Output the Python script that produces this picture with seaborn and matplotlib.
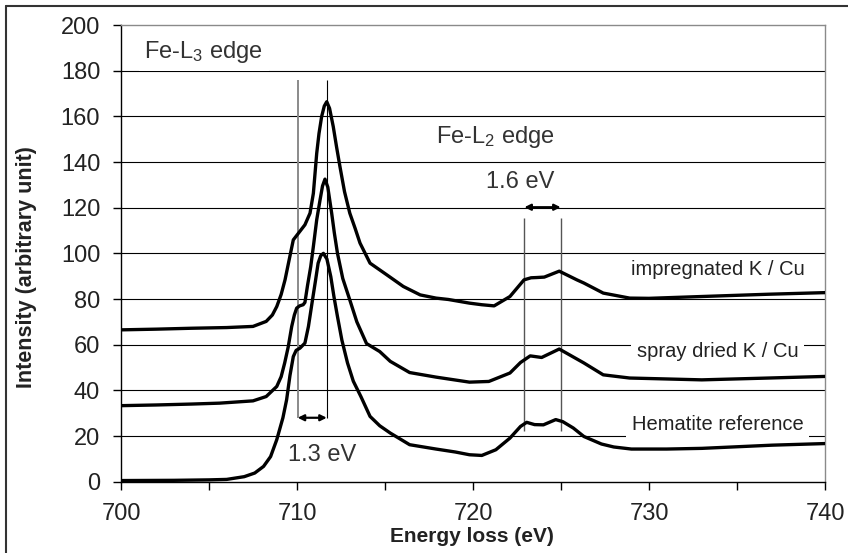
import numpy as np
import pandas as pd
import matplotlib
matplotlib.use("Agg")
import matplotlib.pyplot as plt
import seaborn as sns
from matplotlib.lines import Line2D

# ---------------- data: Fe L2,3 EELS spectra ----------------
hem_e = [700.0, 703.0, 705.0, 706.0, 707.0, 707.6, 708.1, 708.5, 708.85, 709.2,
         709.41, 709.6, 709.79, 709.95, 710.17, 710.45, 710.65, 710.88, 711.05, 711.2,
         711.35, 711.5, 711.7, 711.92, 712.1, 712.3, 712.55, 712.87, 713.2, 713.63,
         714.15, 714.7, 715.3, 716.4, 717.9, 719.0, 719.8,
         720.5, 721.3, 722.1, 722.7, 723.05, 723.5, 724.0, 724.7, 725.1, 725.7,
         726.3, 727.3, 728.0, 729.0, 731.0, 733.0, 735.0, 737.0, 740.0]
hem_i = [0.5, 0.6, 0.8, 1.0, 2.2, 3.8, 6.7, 11.0, 18.4, 28.0,
         35.9, 46.5, 54.8, 57.5, 58.5, 60.7, 68.0, 79.6, 88.0, 95.7,
         99.0, 100.0, 97.5, 89.8, 81.0, 72.3, 62.0, 52.0, 44.0, 37.3,
         28.6, 24.5, 21.3, 16.2, 14.3, 13.0, 11.8,
         11.5, 14.0, 19.1, 24.2, 26.0, 25.0, 24.9, 27.2, 26.3, 23.5,
         19.8, 16.5, 15.2, 14.3, 14.3, 14.6, 15.3, 16.0, 16.7]

imp_e = [700.0, 702.0, 704.0, 706.0, 707.5, 708.25, 708.6, 708.85, 709.1, 709.32,
         709.55, 709.79, 710.08, 710.45, 710.74, 710.93, 711.12, 711.25, 711.4, 711.55,
         711.69, 711.85, 712.06, 712.25, 712.44, 712.7, 713.0, 713.3, 713.58, 714.15,
         715.1, 716.04, 717.0, 717.9, 718.6, 719.8, 720.5, 721.2, 722.1, 722.9, 723.3,
         723.6, 724.05, 724.9, 725.9, 726.3, 727.4, 728.9, 730.0, 733.0, 736.8, 740.0]
imp_i = [66.5, 66.8, 67.2, 67.5, 68.0, 70.2, 73.0, 76.7, 82.0, 88.4,
         97.0, 105.9, 108.8, 112.5, 117.6, 126.3, 143.8, 152.5, 159.9, 164.5,
         166.4, 163.5, 155.5, 146.5, 138.0, 127.0, 117.6, 111.0, 104.5, 95.7,
         90.6, 85.5, 81.8, 80.4, 79.8, 78.2, 77.5, 77.0, 81.1, 88.4, 89.3,
         89.4, 89.6, 92.2, 88.4, 87.0, 82.6, 80.4, 80.3, 81.1, 82.1, 82.8]

spr_e = [700.0, 702.0, 704.0, 705.6, 707.5, 708.25, 708.85, 709.1, 709.3, 709.5,
         709.7, 709.85, 709.98, 710.15, 710.35, 710.45, 710.6, 710.78, 710.93, 711.12,
         711.31, 711.45, 711.59, 711.75, 711.97, 712.12, 712.3, 712.6, 713.0, 713.4,
         713.95, 714.7, 715.3, 716.4, 717.9, 719.8, 720.9, 722.1, 722.7, 723.25,
         723.9, 724.9, 726.3, 727.4, 728.9, 733.0, 736.8, 740.0]
spr_i = [33.3, 33.6, 34.0, 34.4, 35.4, 37.3, 41.7, 46.0, 52.0, 59.0,
         68.0, 73.0, 76.0, 77.0, 77.5, 78.5, 86.0, 94.2, 103.0, 114.7,
         123.4, 129.5, 132.5, 129.0, 117.6, 109.0, 100.0, 89.0, 79.6, 70.0,
         60.5, 57.0, 52.7, 47.8, 45.8, 43.6, 43.9, 47.6, 52.2, 55.1,
         54.4, 58.1, 52.0, 46.8, 45.4, 44.6, 45.4, 46.1]

samples = ["impregnated K / Cu", "spray dried K / Cu", "Hematite reference"]

df = pd.concat([
    pd.DataFrame({"energy": imp_e, "intensity": imp_i, "sample": samples[0]}),
    pd.DataFrame({"energy": spr_e, "intensity": spr_i, "sample": samples[1]}),
    pd.DataFrame({"energy": hem_e, "intensity": hem_i, "sample": samples[2]}),
])

# peak-separation markers (eV)
l3_marks = [710.04, 711.69]
l2_marks = [722.92, 724.98]

x_major = [700, 710, 720, 730, 740]
x_minor = [705, 715, 725, 735]
y_ticks = list(range(0, 201, 20))

# ---------------- styling ----------------
sns.set_theme(style="ticks")
plt.rcParams["font.family"] = ["Liberation Sans", "DejaVu Sans"]
plt.rcParams["mathtext.fontset"] = "custom"
plt.rcParams["mathtext.rm"] = "Liberation Sans"
plt.rcParams["mathtext.it"] = "Liberation Sans:italic"
plt.rcParams["lines.solid_joinstyle"] = "round"

W, H = 848, 553
fig = plt.figure(figsize=(W / 100, H / 100), dpi=100)
fig.patch.set_facecolor("white")
ax = fig.add_axes([121 / W, 1 - 481.7 / H, (825 - 121) / W, (481.7 - 25) / H])

# horizontal grid
for v in y_ticks[1:-1]:
    ax.axhline(v, color="black", lw=0.8, zorder=1)

sns.lineplot(data=df, x="energy", y="intensity", hue="sample",
             palette={s: "black" for s in samples}, estimator=None, sort=False,
             linewidth=2.4, legend=False, ax=ax, zorder=3)
for ln in ax.get_lines():
    ln.set_solid_joinstyle("round")

ax.set_xlim(700, 740)
ax.set_ylim(0, 200)
ax.set_xticks(x_major)
ax.set_xticks(x_minor, minor=True)
ax.set_yticks(y_ticks)
ax.set_xlabel("")
ax.set_ylabel("")

ax.tick_params(axis="both", which="both", direction="out", length=6, width=1,
               color="black", labelsize=17, labelcolor="#222222",
               bottom=True, left=True, top=False, right=False)
ax.tick_params(axis="x", pad=9)
ax.tick_params(axis="y", pad=9)

for side in ("left", "bottom"):
    ax.spines[side].set_color("black")
    ax.spines[side].set_linewidth(1.0)
for side in ("top", "right"):
    ax.spines[side].set_visible(True)
    ax.spines[side].set_color("#8a8a8a")
    ax.spines[side].set_linewidth(1.0)

# peak markers
ax.vlines(l3_marks[0], 28, 176, color="#8a8a8a", lw=1.4, zorder=2)
ax.vlines(l3_marks[1], 28, 176, color="black", lw=0.8, zorder=2)
ax.vlines(l2_marks, 22, 115.4, color="#555555", lw=1.0, zorder=2)

arrow = dict(arrowstyle="<|-|>", color="black", lw=1.6, mutation_scale=9,
             shrinkA=0, shrinkB=0)
ax.annotate("", xy=(l3_marks[1], 28), xytext=(l3_marks[0], 28), arrowprops=arrow, zorder=4)
ax.annotate("", xy=(l2_marks[1], 120.2), xytext=(l2_marks[0], 120.2), arrowprops=arrow, zorder=4)

box = dict(facecolor="white", edgecolor="none", pad=4)
tc = "#333333"
ax.text(704.7, 185.6, "Fe-L$_3$ edge", ha="center", va="baseline", fontsize=17,
        color=tc, bbox=box, zorder=5)
ax.text(721.25, 148.2, "Fe-L$_2$ edge", ha="center", va="baseline", fontsize=17,
        color=tc, bbox=box, zorder=5)
ax.text(722.7, 128.5, "1.6 eV", ha="center", va="baseline", fontsize=17,
        color=tc, zorder=5)
ax.text(711.4, 8.9, "1.3 eV", ha="center", va="baseline", fontsize=17,
        color=tc, zorder=5)
ax.text(733.9, 90.3, samples[0], ha="center", va="baseline", fontsize=14.5,
        color="#222222", bbox=box, zorder=5)
ax.text(733.9, 54.6, samples[1], ha="center", va="baseline", fontsize=14.5,
        color="#222222", bbox=box, zorder=5)
ax.text(733.9, 22.8, samples[2], ha="center", va="baseline", fontsize=14.5,
        color="#222222", bbox=box, zorder=5)

# axis titles
fig.text(27 / W, 1 - 267 / H, "Intensity (arbitrary unit)", rotation=90,
         ha="center", va="center", fontsize=15.5, fontweight="bold", color="#222222")
fig.text(472 / W, 1 - 537 / H, "Energy loss (eV)", ha="center", va="center",
         fontsize=15, fontweight="bold", color="#222222")

# outer frame (left and top edges)
fig.add_artist(Line2D([6 / W, 6 / W], [0, 1 - 6 / H], transform=fig.transFigure,
                      color="#333333", lw=1.5))
fig.add_artist(Line2D([6 / W, 1], [1 - 6 / H, 1 - 6 / H], transform=fig.transFigure,
                      color="#333333", lw=1.5))

fig.savefig("out.png", dpi=100)
